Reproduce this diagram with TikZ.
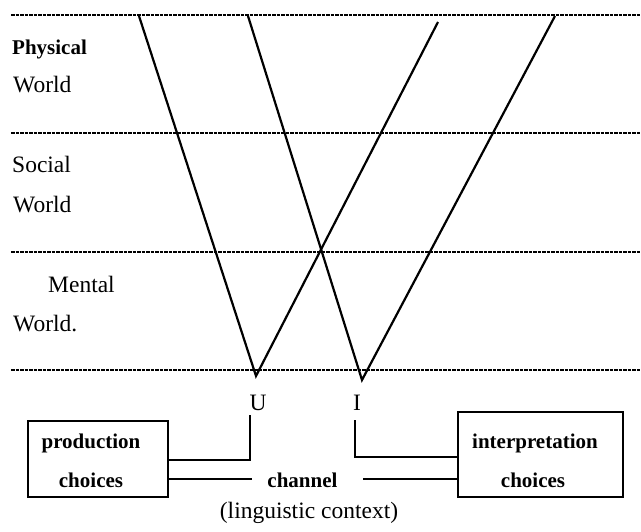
\documentclass[tikz,border=0pt]{standalone}
\usepackage{fontspec}
\setmainfont{Liberation Serif}
\begin{document}
\begin{tikzpicture}[x=1pt,y=-1pt,
  dashline/.style={line width=1.6pt, dash pattern=on 3.5pt off 1pt},
  diag/.style={line width=2.2pt, line join=miter},
  boxst/.style={draw, line width=1.7pt, inner sep=0pt},
  conn/.style={line width=1.5pt},
  reg/.style={font=\fontsize{23.5}{28}\selectfont, inner sep=0pt},
  bld/.style={font=\fontsize{21}{25}\selectfont\bfseries, inner sep=0pt},
]
\useasboundingbox[fill=white] (0,0) rectangle (641,532);

% dashed level lines
\foreach \n/\y in {1/15,2/133,3/252,4/370}{
  \coordinate (D\n a) at (11,\y);
  \coordinate (D\n b) at (641,\y);
  \draw[dashline] (D\n a) -- (D\n b);
}

% world labels
\node[bld, anchor=base west] (phys) at (12,55) {Physical};
\node[reg, anchor=base west] (w1) at (13,93) {World};
\node[reg, anchor=base west] (soc) at (12,173) {Social};
\node[reg, anchor=base west] (w2) at (13,213) {World};
\node[reg, anchor=base west] (ment) at (48,293) {Mental};
\node[reg, anchor=base west] (w3) at (13,332) {World.};

% V lines
\coordinate (A1) at (139,16);
\coordinate (Uv) at (256,376);
\coordinate (A2) at (438,22);
\coordinate (B1) at (248,16);
\coordinate (Iv) at (362,380);
\coordinate (B2) at (555,16);
\draw[diag] (A1) -- (Uv) -- (A2);
\draw[diag] (B1) -- (Iv) -- (B2);

% U and I labels
\node[reg, anchor=base] (U) at (258,410) {U};
\node[reg, anchor=base] (I) at (357,410) {I};

% boxes
\node[boxst, minimum width=140pt, minimum height=76pt] (pbox) at (98,459) {};
\node[boxst, minimum width=165pt, minimum height=85pt] (ibox) at (540.5,454.5) {};
\node[bld, anchor=base] (prod) at (91,448) {production};
\node[bld, anchor=base] (pch) at (91,487) {choices};
\node[bld, anchor=base] (interp) at (535,448) {interpretation};
\node[bld, anchor=base] (ich) at (533,487) {choices};

% channel
\node[bld, anchor=base] (chan) at (302.5,487) {channel};
\node[reg, anchor=base] (ling) at (309,518) {(linguistic context)};

% connectors
\coordinate (Utop) at (250,415);
\coordinate (uy) at (0,460);
\draw[conn] (Utop) |- (pbox.east |- uy);
\coordinate (Itop) at (355,420);
\coordinate (iy) at (0,457);
\draw[conn] (Itop) |- (ibox.west |- iy);
\coordinate (chL) at (252,479);
\coordinate (chR) at (363,479);
\draw[conn] (pbox.east |- chL) -- (chL);
\draw[conn] (chR) -- (ibox.west |- chR);
\end{tikzpicture}
\end{document}
